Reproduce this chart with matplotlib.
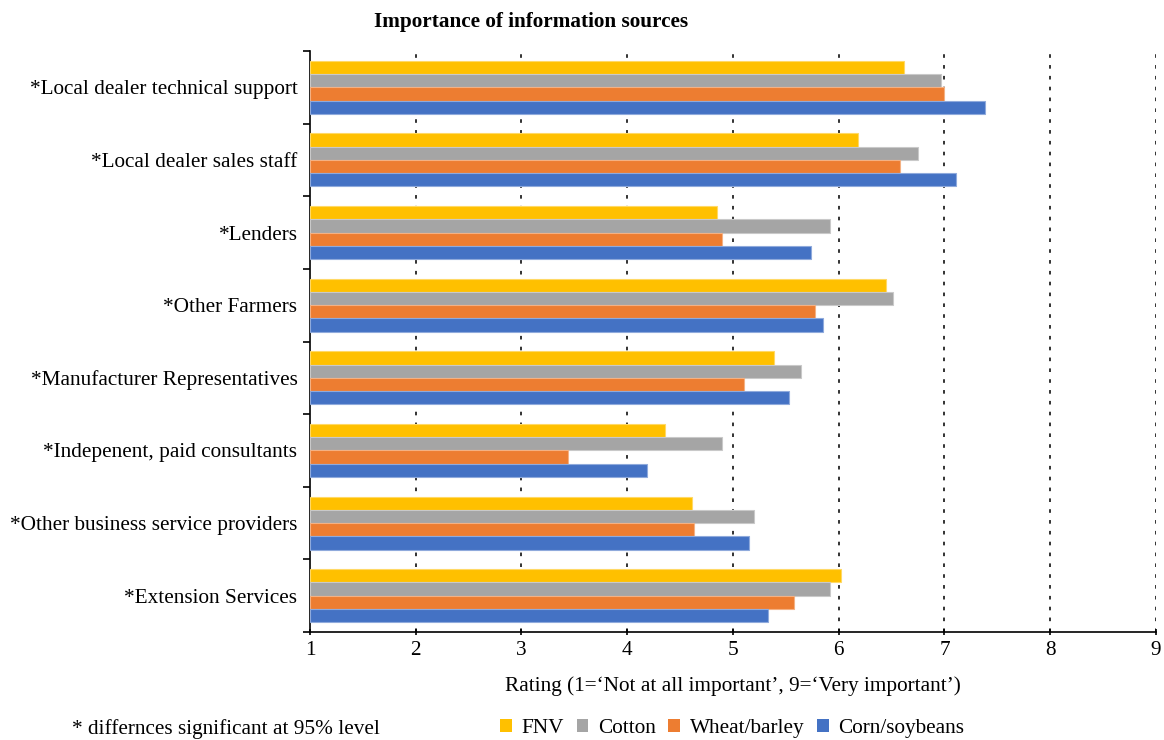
import matplotlib.pyplot as plt
from matplotlib.patches import Patch
import numpy as np

plt.rcParams['font.family'] = ['Liberation Serif', 'DejaVu Serif']

# categories listed top to bottom
categories = ['*Local dealer technical support', '*Local dealer sales staff', '*Lenders',
              '*Other Farmers', '*Manufacturer Representatives', '*Indepenent, paid consultants',
              '*Other business service providers', '*Extension Services']
series = ['FNV', 'Cotton', 'Wheat/barley', 'Corn/soybeans']
fnv = [6.62, 6.18, 4.85, 6.45, 5.39, 4.36, 4.61, 6.02]
cotton = [6.97, 6.75, 5.92, 6.51, 5.64, 4.90, 5.20, 5.92]
wheat = [7.00, 6.58, 4.90, 5.78, 5.10, 3.44, 4.63, 5.58]
corn = [7.38, 7.11, 5.74, 5.85, 5.53, 4.19, 5.15, 5.33]
colors = ['#FFC000', '#A5A5A5', '#ED7D31', '#4472C4']
edges = ['#FFD966', '#C9C9C9', '#F4B183', '#8FAADC']

fig = plt.figure(figsize=(11.64, 7.40), dpi=100)
ax = fig.add_axes([0.2663, 0.1459, 0.7268, 0.7852])

n = len(categories)
ypos = np.arange(n)[::-1]
h = 0.1825
offsets = [1.5 * h, 0.5 * h, -0.5 * h, -1.5 * h]
for vals, off, c, ec in zip([fnv, cotton, wheat, corn], offsets, colors, edges):
    ax.barh(ypos + off, np.array(vals) - 1, left=1, height=h, color=c,
            edgecolor=ec, linewidth=0.8, zorder=3)

ax.set_xlim(1, 9)
ax.set_ylim(-0.5, n - 0.5)
ax.set_xticks(range(1, 10))
ax.set_yticks(ypos)
ax.set_yticklabels(categories, fontsize=15.3)
ax.set_yticks(np.arange(-0.5, n, 1), minor=True)
ax.tick_params(axis='y', which='major', length=0, pad=9)
ax.tick_params(axis='y', which='minor', length=5, width=1.2, direction='out')
ax.tick_params(axis='x', labelsize=15.3, length=5, width=1.2, direction='inout', pad=4)

for x in range(2, 10):
    ax.axvline(x, color='#222222', linestyle=(0, (2, 4)), linewidth=1.3, zorder=1)

for s in ['top', 'right']:
    ax.spines[s].set_visible(False)
for s in ['left', 'bottom']:
    ax.spines[s].set_linewidth(1.2)
    ax.spines[s].set_color('black')

ax.set_xlabel("Rating (1=\u2018Not at all important\u2019, 9=\u2018Very important\u2019)",
              fontsize=15.3, labelpad=12)

fig.text(0.456, 0.970, 'Importance of information sources', ha='center', va='center',
         fontsize=15.3, fontweight='bold')

fig.text(0.062, 0.015, '* differnces significant at 95% level', ha='left', va='center', fontsize=15.3)

handles = [Patch(facecolor=c, edgecolor='none') for c in colors]
fig.legend(handles, series, loc='center', bbox_to_anchor=(0.629, 0.015), ncol=4,
           frameon=False, fontsize=15.3, handlelength=0.55, handleheight=0.55,
           handletextpad=0.45, columnspacing=0.6)

fig.savefig('out.png', dpi=100)
